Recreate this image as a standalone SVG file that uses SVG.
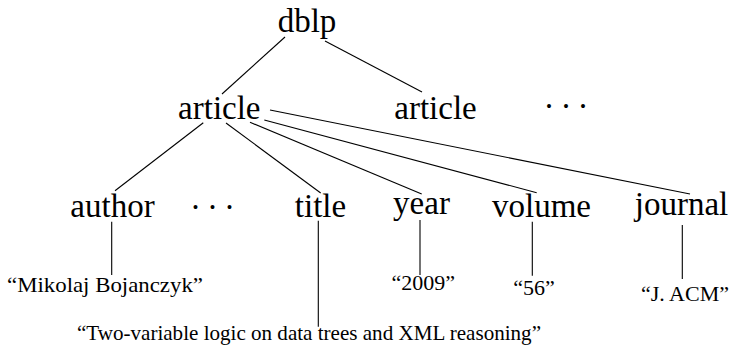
<svg xmlns="http://www.w3.org/2000/svg" width="737" height="350" viewBox="0 0 737 350">
  <style>
    .lbl { font-family: 'Liberation Serif', 'Times New Roman', serif; font-size: 33px; fill: #000; text-anchor: middle; }
    .val { font-family: 'Liberation Serif', 'Times New Roman', serif; font-size: 22px; fill: #000; text-anchor: middle; }
    .dots { font-family: 'Liberation Serif', 'Times New Roman', serif; font-size: 33px; fill: #000; text-anchor: middle; letter-spacing: 6px; }
    .edge { stroke: #000; stroke-width: 1.1; fill: none; }
  </style>
  <rect width="737" height="350" fill="#fff"/>

  <g id="connectors">
    <line class="edge" x1="285" y1="37" x2="222" y2="94"/>
    <line class="edge" x1="325" y1="41" x2="422" y2="92"/>
    <line class="edge" x1="203.3" y1="122.7" x2="115" y2="190.7"/>
    <line class="edge" x1="226" y1="123" x2="320.7" y2="193"/>
    <line class="edge" x1="250" y1="122.3" x2="421.7" y2="194"/>
    <line class="edge" x1="264.3" y1="120" x2="536.7" y2="192.7"/>
    <line class="edge" x1="270" y1="110" x2="690" y2="194"/>
    <line class="edge" x1="111.7" y1="221.7" x2="111.7" y2="275"/>
    <line class="edge" x1="318.3" y1="220.7" x2="318.3" y2="326.7"/>
    <line class="edge" x1="420" y1="220" x2="420" y2="275"/>
    <line class="edge" x1="532.3" y1="221.7" x2="532.3" y2="275.7"/>
    <line class="edge" x1="682.3" y1="225" x2="682.3" y2="279"/>
  </g>

  <!-- element labels -->
  <g id="dblp"><text class="lbl" x="307" y="32">dblp</text></g>
  <g id="article1"><text class="lbl" x="219.3" y="119">article</text></g>
  <g id="article2"><text class="lbl" x="435.5" y="119">article</text></g>
  <g id="more-articles"><text class="dots" x="569" y="116.5">···</text></g>

  <g id="author"><text class="lbl" x="112.5" y="216.5">author</text></g>
  <g id="more-fields"><text class="dots" x="215.5" y="217.5">···</text></g>
  <g id="title"><text class="lbl" x="320.5" y="216.5">title</text></g>
  <g id="year"><text class="lbl" x="421.5" y="213.5">year</text></g>
  <g id="volume"><text class="lbl" x="541.5" y="216.5">volume</text></g>
  <g id="journal"><text class="lbl" x="681.5" y="214.5">journal</text></g>

  <!-- string values -->
  <g id="author-value"><text class="val" x="105" y="292" textLength="196" lengthAdjust="spacingAndGlyphs">“Mikolaj Bojanczyk”</text></g>
  <g id="title-value"><text class="val" x="309" y="340" textLength="464" lengthAdjust="spacingAndGlyphs">“Two-variable logic on data trees and XML reasoning”</text></g>
  <g id="year-value"><text class="val" x="423.3" y="290">“2009”</text></g>
  <g id="volume-value"><text class="val" x="534" y="295">“56”</text></g>
  <g id="journal-value"><text class="val" x="685" y="301">“J. ACM”</text></g>
</svg>
